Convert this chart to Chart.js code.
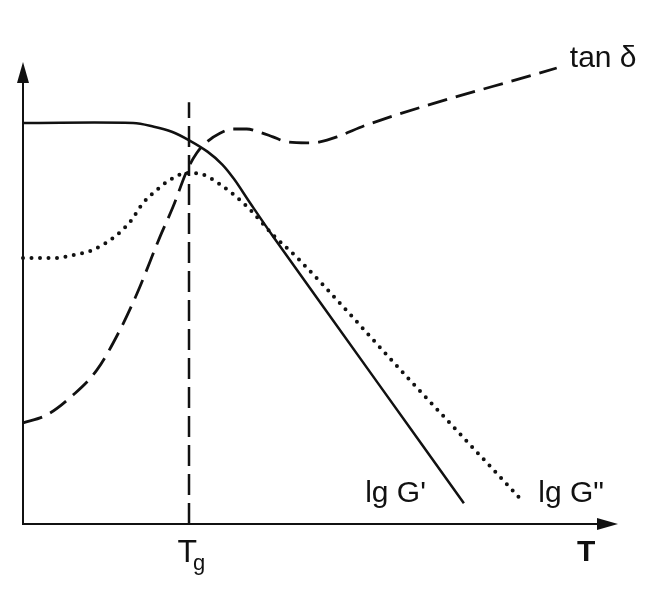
<!DOCTYPE html>
<html>
<head>
<meta charset="utf-8">
<script src="https://cdn.jsdelivr.net/npm/chart.js@4"></script>
<style>
  body { margin: 0; background: #fff; }
  #wrap { width: 659px; height: 600px; }
</style>
</head>
<body>
<div id="wrap"><canvas id="chart" width="659" height="600"></canvas></div>
<script>
// storage modulus lg G' (solid)
let gPrimeT = [0, 18.5, 22.0, 25.0, 28.0, 31.0, 33.5, 35.5, 38.0, 42.0, 59.2, 74.1];
let gPrimeVal = [86.8, 86.8, 86.0, 84.9, 83.0, 80.6, 77.8, 74.6, 69.8, 62.3, 31.3, 4.5];

// loss modulus lg G'' (dotted)
let gTwoT = [0, 5.7, 8.4, 11.3, 13.4, 15.8, 18.0, 20.2, 22.5, 24.7, 27.6, 30.3, 32.8, 35.1, 38.2, 42.0, 46.1, 64.2, 83.5];
let gTwoVal = [57.6, 57.6, 58.2, 59.1, 60.4, 62.6, 65.4, 69.5, 72.3, 74.5, 76.0, 75.6, 73.8, 71.6, 68.0, 62.6, 57.6, 32.3, 5.6];

// loss factor tan delta (dashed)
let tanT = [0, 4.0, 8.4, 12.4, 16.3, 19.2, 23.0, 25.2, 27.6, 29.2, 30.9, 33.1, 35.3, 37.6, 39.8, 42.0, 44.4, 47.7, 49.9, 52.8, 57.8, 89.7];
let tanVal = [21.9, 23.6, 27.9, 33.3, 42.0, 50.0, 62.1, 68.6, 76.6, 80.3, 82.7, 84.6, 85.5, 85.5, 84.8, 83.8, 82.7, 82.5, 82.7, 83.8, 86.4, 98.7];

// glass transition marker
let tgT = [27.9, 27.9];
let tgVal = [0, 91.3];

let curveLabels = ["tan \u03b4", "lg G'", 'lg G"'];
let curveLabelT = [91.9, 57.5, 86.6];
let curveLabelVal = [98.9, 4.8, 4.8];

let pts = (xs, ys) => xs.map((x, i) => ({ x: x, y: ys[i] }));

let FONT = '"Liberation Sans", Arial, sans-serif';

let axesAndText = {
  id: "axesAndText",
  afterDraw(chart) {
    let ctx = chart.ctx;
    let a = chart.chartArea;
    let xs = chart.scales.x, ys = chart.scales.y;
    ctx.save();
    ctx.strokeStyle = "#111";
    ctx.fillStyle = "#111";
    ctx.lineWidth = 2;
    // axes
    ctx.beginPath();
    ctx.moveTo(a.left, a.top + 15);
    ctx.lineTo(a.left, a.bottom);
    ctx.lineTo(a.right - 15, a.bottom);
    ctx.stroke();
    // arrow heads
    ctx.beginPath();
    ctx.moveTo(a.left, a.top);
    ctx.lineTo(a.left - 6, a.top + 21);
    ctx.lineTo(a.left + 6, a.top + 21);
    ctx.closePath();
    ctx.fill();
    ctx.beginPath();
    ctx.moveTo(a.right, a.bottom);
    ctx.lineTo(a.right - 21, a.bottom - 6);
    ctx.lineTo(a.right - 21, a.bottom + 6);
    ctx.closePath();
    ctx.fill();

    // curve names
    ctx.textBaseline = "alphabetic";
    ctx.textAlign = "left";
    ctx.font = "30px " + FONT;
    curveLabels.forEach((t, i) => {
      ctx.fillText(t, xs.getPixelForValue(curveLabelT[i]), ys.getPixelForValue(curveLabelVal[i]));
    });

    // T axis title
    ctx.font = "bold 30px " + FONT;
    ctx.fillText("T", xs.getPixelForValue(93.1), a.bottom + 37);

    // Tg tick label
    let tx = xs.getPixelForValue(tgT[0]);
    ctx.font = "32px " + FONT;
    ctx.textAlign = "right";
    ctx.fillText("T", tx + 8, a.bottom + 38);
    ctx.font = "22px " + FONT;
    ctx.textAlign = "left";
    ctx.fillText("g", tx + 4, a.bottom + 46);
    ctx.restore();
  },
};

new Chart(document.getElementById("chart").getContext("2d"), {
  type: "line",
  data: {
    datasets: [
      {
        label: "lg G'",
        data: pts(gPrimeT, gPrimeVal),
        borderColor: "#111",
        borderWidth: 2.5,
        tension: 0.35,
        pointRadius: 0,
        fill: false,
        clip: false,
      },
      {
        label: 'lg G"',
        data: pts(gTwoT, gTwoVal),
        borderColor: "#111",
        borderWidth: 4,
        borderDash: [0, 8.5],
        borderCapStyle: "round",
        cubicInterpolationMode: "monotone",
        pointRadius: 0,
        fill: false,
        clip: false,
      },
      {
        label: "tan \u03b4",
        data: pts(tanT, tanVal),
        borderColor: "#111",
        borderWidth: 2.8,
        borderDash: [20, 9],
        cubicInterpolationMode: "monotone",
        pointRadius: 0,
        fill: false,
        clip: false,
      },
      {
        label: "Tg",
        data: pts(tgT, tgVal),
        borderColor: "#111",
        borderWidth: 2.5,
        borderDash: [21, 8],
        pointRadius: 0,
        fill: false,
        clip: false,
      },
    ],
  },
  options: {
    responsive: false,
    animation: false,
    layout: { padding: { left: 23, right: 41, top: 62, bottom: 76 } },
    scales: {
      x: { type: "linear", min: 0, max: 100, display: false },
      y: { type: "linear", min: 0, max: 100, display: false },
    },
    plugins: {
      legend: { display: false },
      tooltip: { enabled: false },
    },
  },
  plugins: [axesAndText],
});
</script>
</body>
</html>
